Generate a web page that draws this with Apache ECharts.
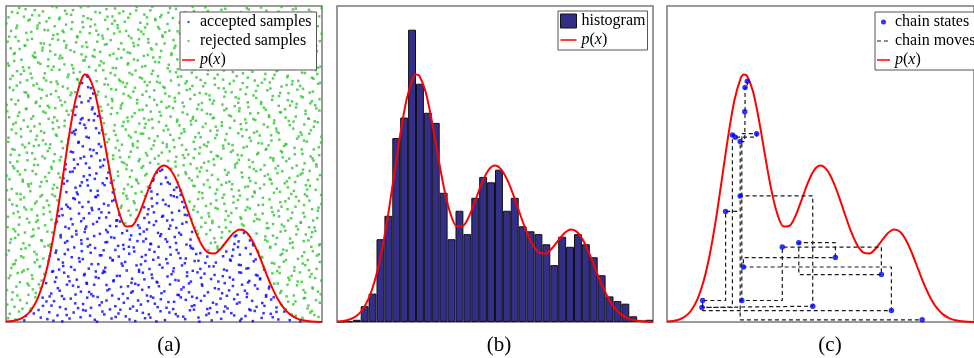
<!DOCTYPE html>
<html><head><meta charset="utf-8">
<script src="https://cdn.jsdelivr.net/npm/echarts@6/dist/echarts.min.js"></script>
<style>html,body{margin:0;padding:0;background:#fff}#c{width:974px;height:358px}</style>
</head><body><div id="c"></div>
<script>
// p(x): x 0..10 across a panel, y as fraction of panel height
const curveX = [0,0.2,0.4,0.6,0.8,1,1.2,1.4,1.6,1.8,2,2.2,2.4,2.5,2.6,2.8,3,3.2,3.4,3.6,3.8,4,4.2,4.4,4.6,4.8,5,5.2,5.4,5.6,5.8,6,6.2,6.4,6.6,6.8,7,7.2,7.4,7.6,7.8,8,8.2,8.4,8.6,8.8,9,9.2,9.4,9.6,9.8,10];
const curveY = [0.0012,0.0032,0.0080,0.0181,0.0381,0.0738,0.1318,0.2168,0.3289,0.4597,0.5923,0.7035,0.7708,0.7830,0.7798,0.7302,0.6366,0.5234,0.4174,0.3398,0.3021,0.3048,0.3390,0.3907,0.4432,0.4815,0.4949,0.4819,0.4474,0.3970,0.3395,0.2850,0.2427,0.2193,0.2169,0.2326,0.2579,0.2817,0.2930,0.2849,0.2564,0.2128,0.1623,0.1136,0.0730,0.0430,0.0233,0.0116,0.0053,0.0022,0.0008,0.0003];

// (b) histogram: 40 bins (bin start), heights as fraction of panel height
const histBins = [0,0.25,0.5,0.75,1,1.25,1.5,1.75,2,2.25,2.5,2.75,3,3.25,3.5,3.75,4,4.25,4.5,4.75,5,5.25,5.5,5.75,6,6.25,6.5,6.75,7,7.25,7.5,7.75,8,8.25,8.5,8.75,9,9.25,9.5,9.75];
const histValues = [0.001,0.002,0.007,0.050,0.090,0.262,0.336,0.582,0.647,0.925,0.754,0.662,0.630,0.409,0.262,0.352,0.278,0.393,0.459,0.442,0.482,0.352,0.393,0.303,0.287,0.278,0.246,0.180,0.270,0.238,0.278,0.246,0.205,0.148,0.081,0.066,0.058,0.018,0.005,0.007];

// (a) proposal samples, flat pairs: x in hundredths, y in thousandths
const sampleXY = [
7,12,41,33,58,5,88,27,103,38,131,9,163,21,178,2,214,30,236,15,252,36,281,7,311,24,334,11,362,39,379,18,409,3,433,29,457,14,489,34,503,6,537,25,561,17,582,37,612,1,634,22,668,31,681,10,713,28,741,4,758,19,787,35,809,13,838,26,862,8,881,33,917,20,931,2,963,30,989,16,
19,71,27,48,66,60,79,43,116,77,144,52,152,66,189,41,205,74,244,57,269,45,290,79,303,62,346,50,357,73,393,42,418,68,427,55,466,77,480,47,514,63,529,41,569,70,596,53,604,76,646,44,655,61,694,49,722,72,731,58,770,40,779,67,818,51,847,78,856,46,893,64,909,56,942,75,954,43,981,69,
3,101,36,84,72,116,94,92,109,108,138,81,170,99,193,118,220,87,229,111,263,95,276,82,318,117,327,104,370,89,386,113,401,97,446,84,452,110,492,91,519,119,543,86,555,103,589,80,621,115,639,94,661,107,699,83,706,100,747,118,763,90,796,105,823,85,833,112,871,98,888,81,921,116,947,93,971,106,996,88,
14,147,44,126,51,158,84,137,121,152,127,123,159,141,184,156,201,129,247,148,256,121,293,139,306,155,341,132,351,146,397,124,421,159,438,135,461,150,477,127,511,144,546,131,573,157,579,122,617,140,628,153,672,128,686,145,719,134,738,157,766,125,791,149,804,138,849,121,866,155,897,133,904,146,936,127,967,152,978,139,
22,182,31,195,69,167,91,189,106,174,149,161,166,198,181,177,217,165,233,191,271,183,284,160,314,172,338,196,366,185,382,163,413,179,441,193,454,168,486,181,507,199,531,170,566,186,591,162,609,194,643,176,664,188,690,166,709,197,743,180,761,169,784,192,815,175,841,187,858,161,886,196,913,173,939,185,959,164,993,190,
9,226,48,208,62,233,97,214,118,201,141,237,157,219,196,229,208,205,240,224,259,239,297,211,309,227,330,203,373,231,390,216,404,236,430,206,470,222,483,238,521,213,540,228,552,202,586,234,615,218,637,207,670,232,697,223,716,209,734,237,774,215,797,226,811,204,836,235,869,212,877,229,924,200,944,221,966,238,984,210,
16,262,39,276,55,249,81,270,113,257,134,242,173,268,187,251,223,277,238,259,266,244,279,272,320,253,343,266,355,241,396,274,416,256,443,263,459,247,491,278,510,254,534,269,571,245,584,261,607,279,648,250,659,265,688,243,724,271,736,255,768,275,782,248,820,260,845,273,853,246,899,264,907,252,949,277,957,258,991,243,
5,300,29,287,74,315,86,293,124,306,146,283,161,318,199,296,211,309,249,285,254,302,288,317,317,291,329,304,368,281,377,312,423,298,436,286,468,307,475,319,516,295,548,282,558,311,598,299,603,288,631,314,674,301,684,284,711,316,749,292,752,305,793,280,826,313,831,297,873,308,884,289,919,303,933,316,969,284,976,299,
24,344,43,331,63,356,99,337,101,322,139,349,168,335,176,358,206,326,231,343,273,354,295,329,302,347,349,321,359,339,388,352,411,325,448,341,451,357,494,333,525,346,527,323,574,338,593,355,619,330,641,344,653,320,696,351,704,336,744,327,772,359,789,340,802,324,843,348,864,334,891,357,902,328,941,345,972,321,987,352,
11,387,34,368,57,394,92,375,119,362,130,384,155,398,191,371,218,389,242,364,261,380,283,396,324,369,336,383,363,361,384,390,407,376,440,399,463,366,497,386,505,372,541,395,564,363,581,381,622,392,633,367,666,385,691,374,720,397,729,360,764,388,799,370,813,393,840,362,868,379,895,391,916,365,927,383,953,398,998,373,
18,421,46,405,70,436,77,414,108,429,147,403,162,425,183,438,224,410,235,431,268,416,291,401,312,433,344,419,371,407,398,428,419,439,429,412,456,424,479,404,518,437,532,418,553,402,597,430,611,411,645,426,663,406,682,434,714,420,740,400,757,427,786,413,817,435,848,409,857,422,882,439,911,415,946,404,962,431,980,418,
2,463,37,477,53,450,95,468,112,443,136,472,171,457,194,446,203,475,246,461,257,449,286,470,319,455,332,441,354,476,392,459,414,447,445,469,467,452,488,478,512,442,545,464,568,474,588,448,606,460,636,479,671,451,699,466,707,444,746,473,769,456,790,440,829,467,834,453,874,477,889,445,923,462,938,471,956,449,994,465,
13,505,26,486,68,512,89,497,123,518,143,491,151,508,188,483,215,514,227,499,264,488,298,511,307,495,339,516,374,503,381,484,420,509,434,493,471,517,482,500,523,485,536,507,562,496,594,519,618,489,627,504,657,515,693,481,725,498,737,513,771,490,781,506,806,482,846,511,861,494,896,517,906,487,945,502,970,518,983,492,
20,547,42,528,60,553,83,534,104,559,132,541,174,522,180,550,212,537,243,556,270,525,277,544,321,532,347,551,361,521,395,539,402,557,447,527,460,548,493,536,509,554,539,523,570,545,577,530,614,552,649,538,667,526,687,558,718,543,733,529,762,555,798,535,824,548,837,520,870,541,880,557,914,531,936,546,964,524,990,553,
8,583,32,597,73,566,98,589,117,575,140,562,158,593,197,579,209,599,230,570,255,586,294,563,315,594,326,578,367,561,389,590,417,572,427,596,453,581,496,567,520,592,530,576,557,560,599,585,610,598,640,569,662,582,698,595,705,564,748,588,775,573,785,599,810,565,839,591,865,577,887,562,926,587,943,574,960,596,997,568,
23,626,47,611,56,638,90,619,111,604,148,631,167,616,186,637,221,608,248,624,262,639,285,613,310,629,342,605,369,620,386,635,410,601,442,627,464,614,484,633,513,609,549,622,565,602,585,636,623,617,632,628,669,606,683,621,723,637,745,610,760,630,794,603,816,625,849,638,855,612,898,623,910,634,932,600,974,618,986,632,
4,667,38,652,65,675,80,643,125,662,137,679,153,648,192,668,219,655,237,641,272,673,281,659,304,646,335,677,352,661,399,650,422,671,437,644,458,666,490,653,508,678,542,640,559,663,592,649,605,674,647,657,654,645,691,670,712,651,739,676,773,660,783,642,822,672,832,654,867,664,885,647,918,679,948,658,958,643,992,669,
17,704,30,689,71,712,96,697,107,683,129,716,172,701,177,686,204,718,239,695,267,708,299,681,316,713,337,699,364,685,394,710,415,692,432,719,469,703,478,687,517,714,535,698,563,682,583,706,620,693,644,717,658,700,685,688,727,711,735,694,767,680,792,709,808,696,844,715,863,684,892,702,920,690,934,714,968,699,979,686,
12,742,45,758,59,727,87,749,114,735,142,721,164,753,195,739,207,726,232,757,260,743,292,729,323,751,333,737,372,722,383,755,408,741,444,730,455,759,498,744,504,723,547,750,572,734,590,747,613,725,630,756,673,740,695,728,708,754,742,736,759,721,797,748,827,733,835,758,872,745,894,724,905,752,940,738,961,726,995,757,
21,779,35,794,67,765,78,786,120,772,145,798,160,761,198,783,225,769,234,791,258,776,287,762,308,797,345,781,358,767,391,788,424,774,439,760,465,795,481,778,522,764,538,790,554,777,595,799,616,766,638,784,660,771,689,796,721,763,750,787,765,773,780,792,819,768,850,782,859,797,890,775,925,763,937,789,973,770,985,785,
6,818,49,830,54,806,93,837,102,821,133,809,169,834,185,815,213,802,245,827,253,839,296,812,301,825,348,803,365,836,387,819,405,831,431,808,472,823,487,838,515,814,544,800,567,829,580,817,608,835,642,811,665,826,680,804,717,832,732,820,774,807,795,837,805,824,842,813,860,833,899,801,912,828,949,816,955,839,988,805,
15,866,28,851,61,874,85,843,115,859,139,877,156,846,190,868,216,855,241,872,274,842,280,861,313,878,340,849,356,864,385,853,418,876,449,845,462,862,476,879,524,850,533,867,560,841,587,873,624,857,634,844,652,870,692,858,710,875,747,847,756,863,788,852,828,871,830,840,876,865,883,856,903,879,930,848,975,861,982,874,
10,903,40,889,64,915,82,896,110,882,150,908,165,893,182,917,222,885,226,901,265,914,289,887,305,906,331,892,360,919,397,898,403,883,435,911,450,895,495,907,502,881,550,913,556,899,578,886,601,916,635,890,656,904,697,918,726,884,730,900,771,910,784,894,812,880,847,909,854,897,878,915,922,888,935,905,952,891,999,912,
1,945,33,930,75,957,100,938,122,924,128,951,154,936,179,922,210,949,244,933,269,958,282,941,322,927,344,953,353,939,380,921,425,947,440,932,473,955,485,928,511,943,543,920,569,952,599,937,602,925,646,956,668,934,686,946,715,923,748,950,763,931,790,959,821,940,836,926,866,954,897,935,915,948,944,921,965,942,978,957,
19,981,42,994,57,966,91,987,105,970,147,999,170,963,187,985,206,972,237,996,259,961,297,979,318,990,337,967,371,983,393,975,414,997,446,964,457,986,492,971,519,993,528,962,566,980,591,998,611,968,639,984,663,960,694,991,719,977,741,965,768,989,793,973,807,995,843,969,862,982,888,963,917,992,947,976,959,988,991,967,
12,26,30,8,63,19,77,35,110,14,137,31,150,4,192,22,201,11,244,38,266,20,288,1,305,33,347,16,356,27,391,8,414,36,440,12,452,24,476,2,517,30,544,18,567,9,595,39,609,14,642,27,651,5,690,33,722,21,745,10,774,37,781,3,815,28,844,15,856,32,898,6,904,24,938,13,968,35,976,22,
4,55,45,69,52,42,93,78,117,51,128,65,171,47,184,73,219,59,228,44,257,77,296,53,318,68,329,40,373,61,385,75,402,49,449,66,471,58,490,72,508,45,532,64,553,78,588,50,617,67,637,41,666,56,679,74,701,43,739,62,762,79,793,48,811,60,839,71,873,54,885,40,916,65,946,76,957,52,993,61,
21,94,33,112,71,86,85,103,104,119,143,90,164,107,177,82,212,115,237,96,270,88,279,118,321,100,336,84,364,111,396,93,419,117,431,102,458,81,484,113,501,97,547,85,562,110,579,94,620,119,628,83,673,104,684,91,718,114,733,87,756,99,788,116,823,80,832,106,868,92,891,118,911,84,941,101,970,109,987,96,
9,139,37,155,68,122,82,148,113,131,146,159,155,127,197,144,224,134,249,152,255,124,284,142,313,158,340,129,360,146,399,137,409,121,433,156,463,139,479,125,524,151,536,133,573,145,585,128,606,157,649,136,660,149,692,123,708,141,744,156,770,130,796,147,804,135,843,154,860,122,894,140,923,128,930,157,962,143,998,131,
17,171,28,184,56,163,99,197,108,177,134,192,168,166,180,188,206,174,243,199,262,169,292,183,309,162,337,195,369,178,377,190,421,165,427,182,466,197,495,172,511,186,529,160,557,179,597,193,615,168,631,187,657,176,699,163,711,194,737,181,767,170,790,198,817,166,849,185,865,174,879,191,912,162,947,180,955,196,983,168,
1,213,48,231,55,204,90,222,122,239,139,209,159,226,186,215,216,236,231,202,268,219,282,234,302,211,346,228,357,207,389,238,406,223,442,212,454,229,482,204,519,237,546,218,569,201,592,232,602,215,640,226,669,239,687,208,719,229,740,213,759,234,799,221,808,206,836,238,874,216,888,226,908,235,937,208,971,224,990,214,
13,251,29,266,74,243,87,273,112,259,141,246,173,275,194,256,209,270,239,248,258,263,297,279,315,252,333,268,371,244,392,261,424,278,435,255,457,247,488,272,505,262,538,250,554,276,583,241,611,265,634,278,662,252,682,267,723,247,729,274,772,258,782,243,821,271,827,255,857,266,899,249,919,277,942,256,966,269,994,246,
24,294,41,308,60,283,96,317,103,297,131,286,157,312,188,301,222,288,238,319,251,295,276,310,322,284,349,303,361,318,383,289,418,306,446,293,453,315,481,282,520,305,539,298,571,316,589,285,618,301,646,291,653,313,696,299,707,287,747,309,753,282,785,319,825,297,845,310,869,286,880,302,924,293,933,314,959,300,979,288,
6,333,38,349,67,327,81,356,119,341,144,324,165,352,179,338,203,359,246,328,263,344,294,357,317,331,326,346,352,322,394,338,413,355,438,329,468,347,497,336,510,321,548,352,566,339,587,325,607,348,643,334,670,358,694,323,713,345,742,331,758,354,794,326,812,343,848,338,862,352,893,321,906,346,945,333,969,357,985,329,
20,372,46,388,58,363,97,381,109,397,136,369,163,385,196,364,213,392,232,378,271,361,285,395,310,374,343,386,366,368,381,399,404,382,437,363,461,391,478,376,515,367,531,398,558,380,596,366,608,389,648,374,663,361,685,393,720,378,734,386,764,363,780,397,813,371,834,388,872,365,884,382,918,396,943,370,960,384,989,362,
3,417,34,406,72,429,79,438,114,402,148,422,152,434,191,411,220,425,227,404,259,432,290,415,306,439,338,410,374,421,386,435,410,407,449,428,460,413,491,437,522,401,540,426,552,416,593,431,621,408,626,435,668,419,690,403,716,436,737,416,766,429,787,409,804,423,841,438,867,412,892,426,903,405,949,433,953,419,997,402,
11,452,44,467,53,444,84,478,124,459,129,446,166,470,182,455,211,476,240,442,265,465,281,453,324,473,341,448,355,462,398,479,412,451,441,464,465,447,477,473,506,457,543,443,570,468,580,455,613,476,638,449,652,465,697,441,704,473,748,458,773,446,792,477,819,462,838,450,859,471,897,456,915,443,932,467,961,478,986,451,
22,493,36,508,61,481,92,516,101,497,145,485,170,512,189,499,217,487,236,518,253,502,299,490,311,514,328,483,367,506,382,497,423,515,429,488,456,504,494,482,513,510,537,492,565,519,584,500,604,486,641,508,659,497,681,517,725,489,731,503,769,513,784,484,818,496,846,518,853,486,887,509,920,495,940,482,973,511,982,499,
15,529,27,545,66,536,88,557,115,524,138,550,154,531,193,558,205,539,247,523,266,546,287,534,301,555,339,527,358,543,390,522,416,552,443,535,467,559,483,526,518,540,533,553,560,528,598,547,612,533,635,556,671,524,688,549,712,538,746,527,752,552,795,531,822,545,831,559,874,537,876,521,913,551,938,532,974,546,991,528,
7,570,48,586,52,561,95,577,121,599,126,563,161,589,176,571,218,594,229,567,262,583,295,598,320,569,347,592,353,574,395,584,401,564,434,596,470,573,480,588,509,562,549,582,555,597,594,570,616,585,627,561,667,592,694,576,717,560,735,597,771,583,799,566,803,590,840,574,863,598,885,563,921,580,936,593,952,571,998,586,
18,609,31,631,69,618,78,604,107,627,149,611,162,637,185,620,215,603,234,629,252,614,278,638,304,607,344,623,372,633,379,609,422,628,439,615,452,639,499,606,507,621,541,634,563,610,586,625,601,637,647,605,664,618,683,632,709,614,743,626,761,608,789,639,828,617,848,629,857,603,895,636,909,612,944,625,965,607,977,635,
10,648,42,663,63,674,86,651,118,666,135,643,156,677,198,656,208,669,242,645,274,679,291,652,303,668,332,658,363,676,384,647,407,661,432,672,462,642,486,665,521,650,529,677,574,657,591,643,620,671,636,659,658,646,698,675,706,654,738,667,757,641,798,661,816,678,833,649,870,663,883,673,917,650,948,668,957,644,982,676,
2,687,39,701,70,718,94,693,111,708,132,684,167,711,187,696,223,681,233,714,261,699,289,719,323,688,335,706,368,692,388,716,415,703,445,685,455,712,492,697,516,682,534,709,559,694,597,719,609,688,645,704,654,691,691,713,724,683,736,707,765,695,783,717,807,690,842,703,864,715,899,685,905,698,939,711,963,692,992,705,
23,734,34,748,64,726,98,754,105,738,142,759,158,731,180,745,219,727,241,756,269,740,276,723,312,752,348,735,370,758,378,744,403,729,447,749,469,733,487,757,502,741,547,724,568,755,582,737,624,746,633,722,661,751,689,739,714,727,749,756,763,743,791,731,810,757,837,739,868,725,888,750,922,735,931,747,971,729,988,754,
14,769,47,784,57,795,82,772,123,787,127,764,169,798,195,775,214,789,228,766,256,781,284,796,316,770,331,788,362,762,399,783,410,796,430,771,461,785,478,760,519,793,544,776,572,762,588,789,603,774,640,797,670,783,687,767,718,791,730,778,773,799,787,764,821,785,845,771,856,794,892,779,907,762,946,788,968,773,980,797,
9,811,26,826,73,805,89,838,109,817,134,831,151,808,178,835,209,813,249,829,263,807,280,839,309,819,338,804,351,833,385,815,417,828,441,810,466,837,484,822,512,803,542,831,557,816,598,834,614,806,629,824,672,815,684,838,720,804,744,827,766,819,786,809,816,836,849,822,858,803,878,830,914,812,947,835,955,819,996,808,
25,848,43,864,59,875,91,852,116,868,140,857,172,843,191,876,204,860,239,847,257,870,298,855,319,879,329,844,373,862,393,851,405,873,436,842,459,866,491,858,523,845,536,874,564,861,578,849,607,877,644,856,666,843,680,869,711,852,749,865,760,848,797,873,826,859,835,844,861,868,896,853,920,876,933,845,972,864,984,857,
5,887,30,902,68,893,80,918,120,881,147,896,163,911,184,889,225,904,235,918,254,885,292,909,307,897,342,913,365,882,389,905,421,895,428,919,451,884,496,902,504,917,530,892,570,908,591,880,618,899,639,914,656,887,695,906,726,892,742,915,770,884,790,903,802,919,847,888,865,906,891,897,911,883,945,917,962,900,993,889,
16,921,35,938,71,954,99,929,106,946,133,923,168,958,190,941,207,927,242,949,267,935,286,922,314,956,336,944,354,930,376,950,419,925,447,943,472,959,481,934,517,922,549,948,562,931,585,957,610,940,649,926,664,953,693,937,708,924,737,955,768,942,780,928,814,951,843,933,870,958,882,924,924,946,941,930,958,952,987,936,
8,964,37,978,62,990,83,971,117,983,137,962,160,996,192,975,212,987,245,968,260,999,283,981,321,966,345,992,359,977,387,963,412,986,438,973,463,998,488,965,514,979,538,991,555,970,595,984,621,961,631,996,674,975,682,988,716,967,743,980,762,993,796,972,824,985,836,961,872,997,894,974,908,989,950,965,966,980,999,993
];

// (c) chain states in visiting order
const chainX = [2.616,2.542,2.532,2.384,1.909,1.160,7.310,2.489,5.485,4.293,6.983,3.755,2.437,2.922,2.226,2.131,1.139,4.747,2.384,8.312];
const chainY = [0.762,0.742,0.665,0.571,0.350,0.068,0.036,0.174,0.204,0.251,0.150,0.237,0.068,0.596,0.585,0.592,0.046,0.050,0.399,0.007];

const panelLabels = ['(a)', '(b)', '(c)'];
const legendA = ['accepted samples', 'rejected samples', 'p(x)'];
const legendB = ['histogram', 'p(x)'];
const legendC = ['chain states', 'chain moves', 'p(x)'];

// ---------- build ----------
const curve = curveX.map((x, i) => [x, curveY[i]]);
function pAt(x) {
  for (let i = 1; i < curveX.length; i++) {
    if (x <= curveX[i]) {
      const t = (x - curveX[i - 1]) / (curveX[i] - curveX[i - 1]);
      return curveY[i - 1] + t * (curveY[i] - curveY[i - 1]);
    }
  }
  return curveY[curveY.length - 1];
}
const accepted = [], rejected = [];
for (let i = 0; i < sampleXY.length; i += 2) {
  const x = sampleXY[i] / 100, y = sampleXY[i + 1] / 1000;
  (y < pAt(x) ? accepted : rejected).push([x, y]);
}
const chainStates = chainX.map((x, i) => [x, chainY[i]]);
const chainPath = [];
for (let k = 0; k < chainX.length; k++) {
  chainPath.push([chainX[k], chainY[k]]);
  if (k + 1 < chainX.length) chainPath.push([chainX[k], chainY[k + 1]]);
}

const SERIF = '"Liberation Serif", "Times New Roman", serif';
const RED = '#ff0000', BLUE = '#0000ff', GREEN = '#2fc42f', BARC = '#332f88';
// legend glyphs (tiny corner specks only fix the glyph box)
const box = (w, body) => 'path://M0,0h0.05v0.05h-0.05z' + body + 'M' + (w - 0.05) + ',13.95h0.05v0.05h-0.05z';
const tinyDot = box(13, 'M5.5,6h2v2h-2z');
const bigDot = box(13, 'M4,7a2.5,2.5 0 1 0 5,0a2.5,2.5 0 1 0 -5,0z');
const lineIcon13 = box(13, 'M0,6.2h13v1.6h-13z');
const lineIcon16 = box(16, 'M0,6.2h16v1.6h-16z');
const dashIcon = box(13, 'M0,6.4h4v1.2h-4zM7,6.4h4v1.2h-4z');

const lgText = {
  fontFamily: SERIF, fontSize: 16, color: '#000', lineHeight: 16,
  rich: { i: { fontFamily: SERIF, fontSize: 16, fontStyle: 'italic', color: '#000', lineHeight: 16 } }
};
const lgFmt = n => n === 'p(x)' ? '{i|p}({i|x})' : n;
const lgBase = {
  orient: 'vertical', itemHeight: 14, itemGap: 3, backgroundColor: '#fff',
  borderColor: '#555', borderWidth: 1, textStyle: lgText, formatter: lgFmt, selectedMode: false
};
const noBorder = { borderWidth: 0 };

const grids = [
  { left: 6, top: 6, width: 316, height: 316 },
  { left: 337, top: 6, width: 316, height: 316 },
  { left: 667, top: 6, width: 316, height: 316 }
].map(g => Object.assign(g, { show: true, borderColor: '#7a7a7a', borderWidth: 1.5, backgroundColor: 'transparent' }));

const valX = gi => ({ gridIndex: gi, type: 'value', min: 0, max: 10, show: false });
const valY = gi => ({ gridIndex: gi, type: 'value', min: 0, max: 1, show: false });

const option = {
  animation: false,
  backgroundColor: '#fff',
  grid: grids,
  xAxis: [valX(0), { gridIndex: 1, type: 'category', data: histBins, show: false, boundaryGap: true }, valX(1), valX(2)],
  yAxis: [valY(0), valY(1), valY(2)],
  legend: [
    Object.assign({}, lgBase, {
      left: 180, top: 12, itemWidth: 13, padding: [2, 5, 2, 2],
      data: [{ name: legendA[0], icon: tinyDot, itemStyle: noBorder }, { name: legendA[1], icon: tinyDot, itemStyle: noBorder },
             { name: legendA[2], icon: lineIcon13, itemStyle: { color: RED, borderWidth: 0 } }]
    }),
    Object.assign({}, lgBase, {
      left: 558, top: 11, itemWidth: 16, padding: [2, 2, 2, 2],
      data: [{ name: legendB[0], icon: 'rect', itemStyle: { borderColor: '#111', borderWidth: 1 } },
             { name: legendB[1], icon: lineIcon16, itemStyle: { color: RED, borderWidth: 0 } }]
    }),
    Object.assign({}, lgBase, {
      left: 875, top: 12, itemWidth: 13, padding: [2, 5, 2, 2],
      data: [{ name: legendC[0], icon: bigDot, itemStyle: noBorder },
             { name: legendC[1], icon: dashIcon, itemStyle: { color: '#1a1a1a', borderWidth: 0 } },
             { name: legendC[2], icon: lineIcon13, itemStyle: { color: RED, borderWidth: 0 } }]
    })
  ],
  series: [
    { name: 'rejected samples', type: 'scatter', xAxisIndex: 0, yAxisIndex: 0, data: rejected,
      symbol: 'rect', symbolSize: 2.5, itemStyle: { color: GREEN }, silent: true, z: 2 },
    { name: 'accepted samples', type: 'scatter', xAxisIndex: 0, yAxisIndex: 0, data: accepted,
      symbol: 'rect', symbolSize: 2.5, itemStyle: { color: BLUE }, silent: true, z: 2 },
    { name: 'p(x)', type: 'line', xAxisIndex: 0, yAxisIndex: 0, data: curve, symbol: 'none', smooth: 0.3,
      lineStyle: { color: RED, width: 2 }, itemStyle: { color: RED }, z: 5, silent: true },
    { name: 'histogram', type: 'bar', xAxisIndex: 1, yAxisIndex: 1, data: histValues, barCategoryGap: '0%',
      itemStyle: { color: BARC, borderColor: '#111', borderWidth: 1 }, z: 2, silent: true },
    { name: 'p(x)', type: 'line', xAxisIndex: 2, yAxisIndex: 1, data: curve, symbol: 'none', smooth: 0.3,
      lineStyle: { color: RED, width: 2 }, itemStyle: { color: RED }, z: 5, silent: true },
    { name: 'p(x)', type: 'line', xAxisIndex: 3, yAxisIndex: 2, data: curve, symbol: 'none', smooth: 0.3,
      lineStyle: { color: RED, width: 2 }, itemStyle: { color: RED }, z: 3, silent: true },
    { name: 'chain moves', type: 'line', xAxisIndex: 3, yAxisIndex: 2, data: chainPath, symbol: 'none',
      lineStyle: { color: '#1a1a1a', width: 1.2, type: [4, 3] }, itemStyle: { color: '#1a1a1a' }, z: 4, silent: true },
    { name: 'chain states', type: 'scatter', xAxisIndex: 3, yAxisIndex: 2, data: chainStates,
      symbol: 'circle', symbolSize: 5.5, itemStyle: { color: BLUE }, z: 6, silent: true }
  ],
  graphic: panelLabels.map((t, i) => ({
    type: 'text', x: [169, 499, 830][i], y: 345,
    style: { text: t, font: '21px ' + SERIF, fill: '#000', align: 'center', verticalAlign: 'middle',
      textAlign: 'center', textVerticalAlign: 'middle' }
  }))
};

const chart = echarts.init(document.getElementById('c'), null, { renderer: 'canvas' });
chart.setOption(option);
</script>
</body></html>
